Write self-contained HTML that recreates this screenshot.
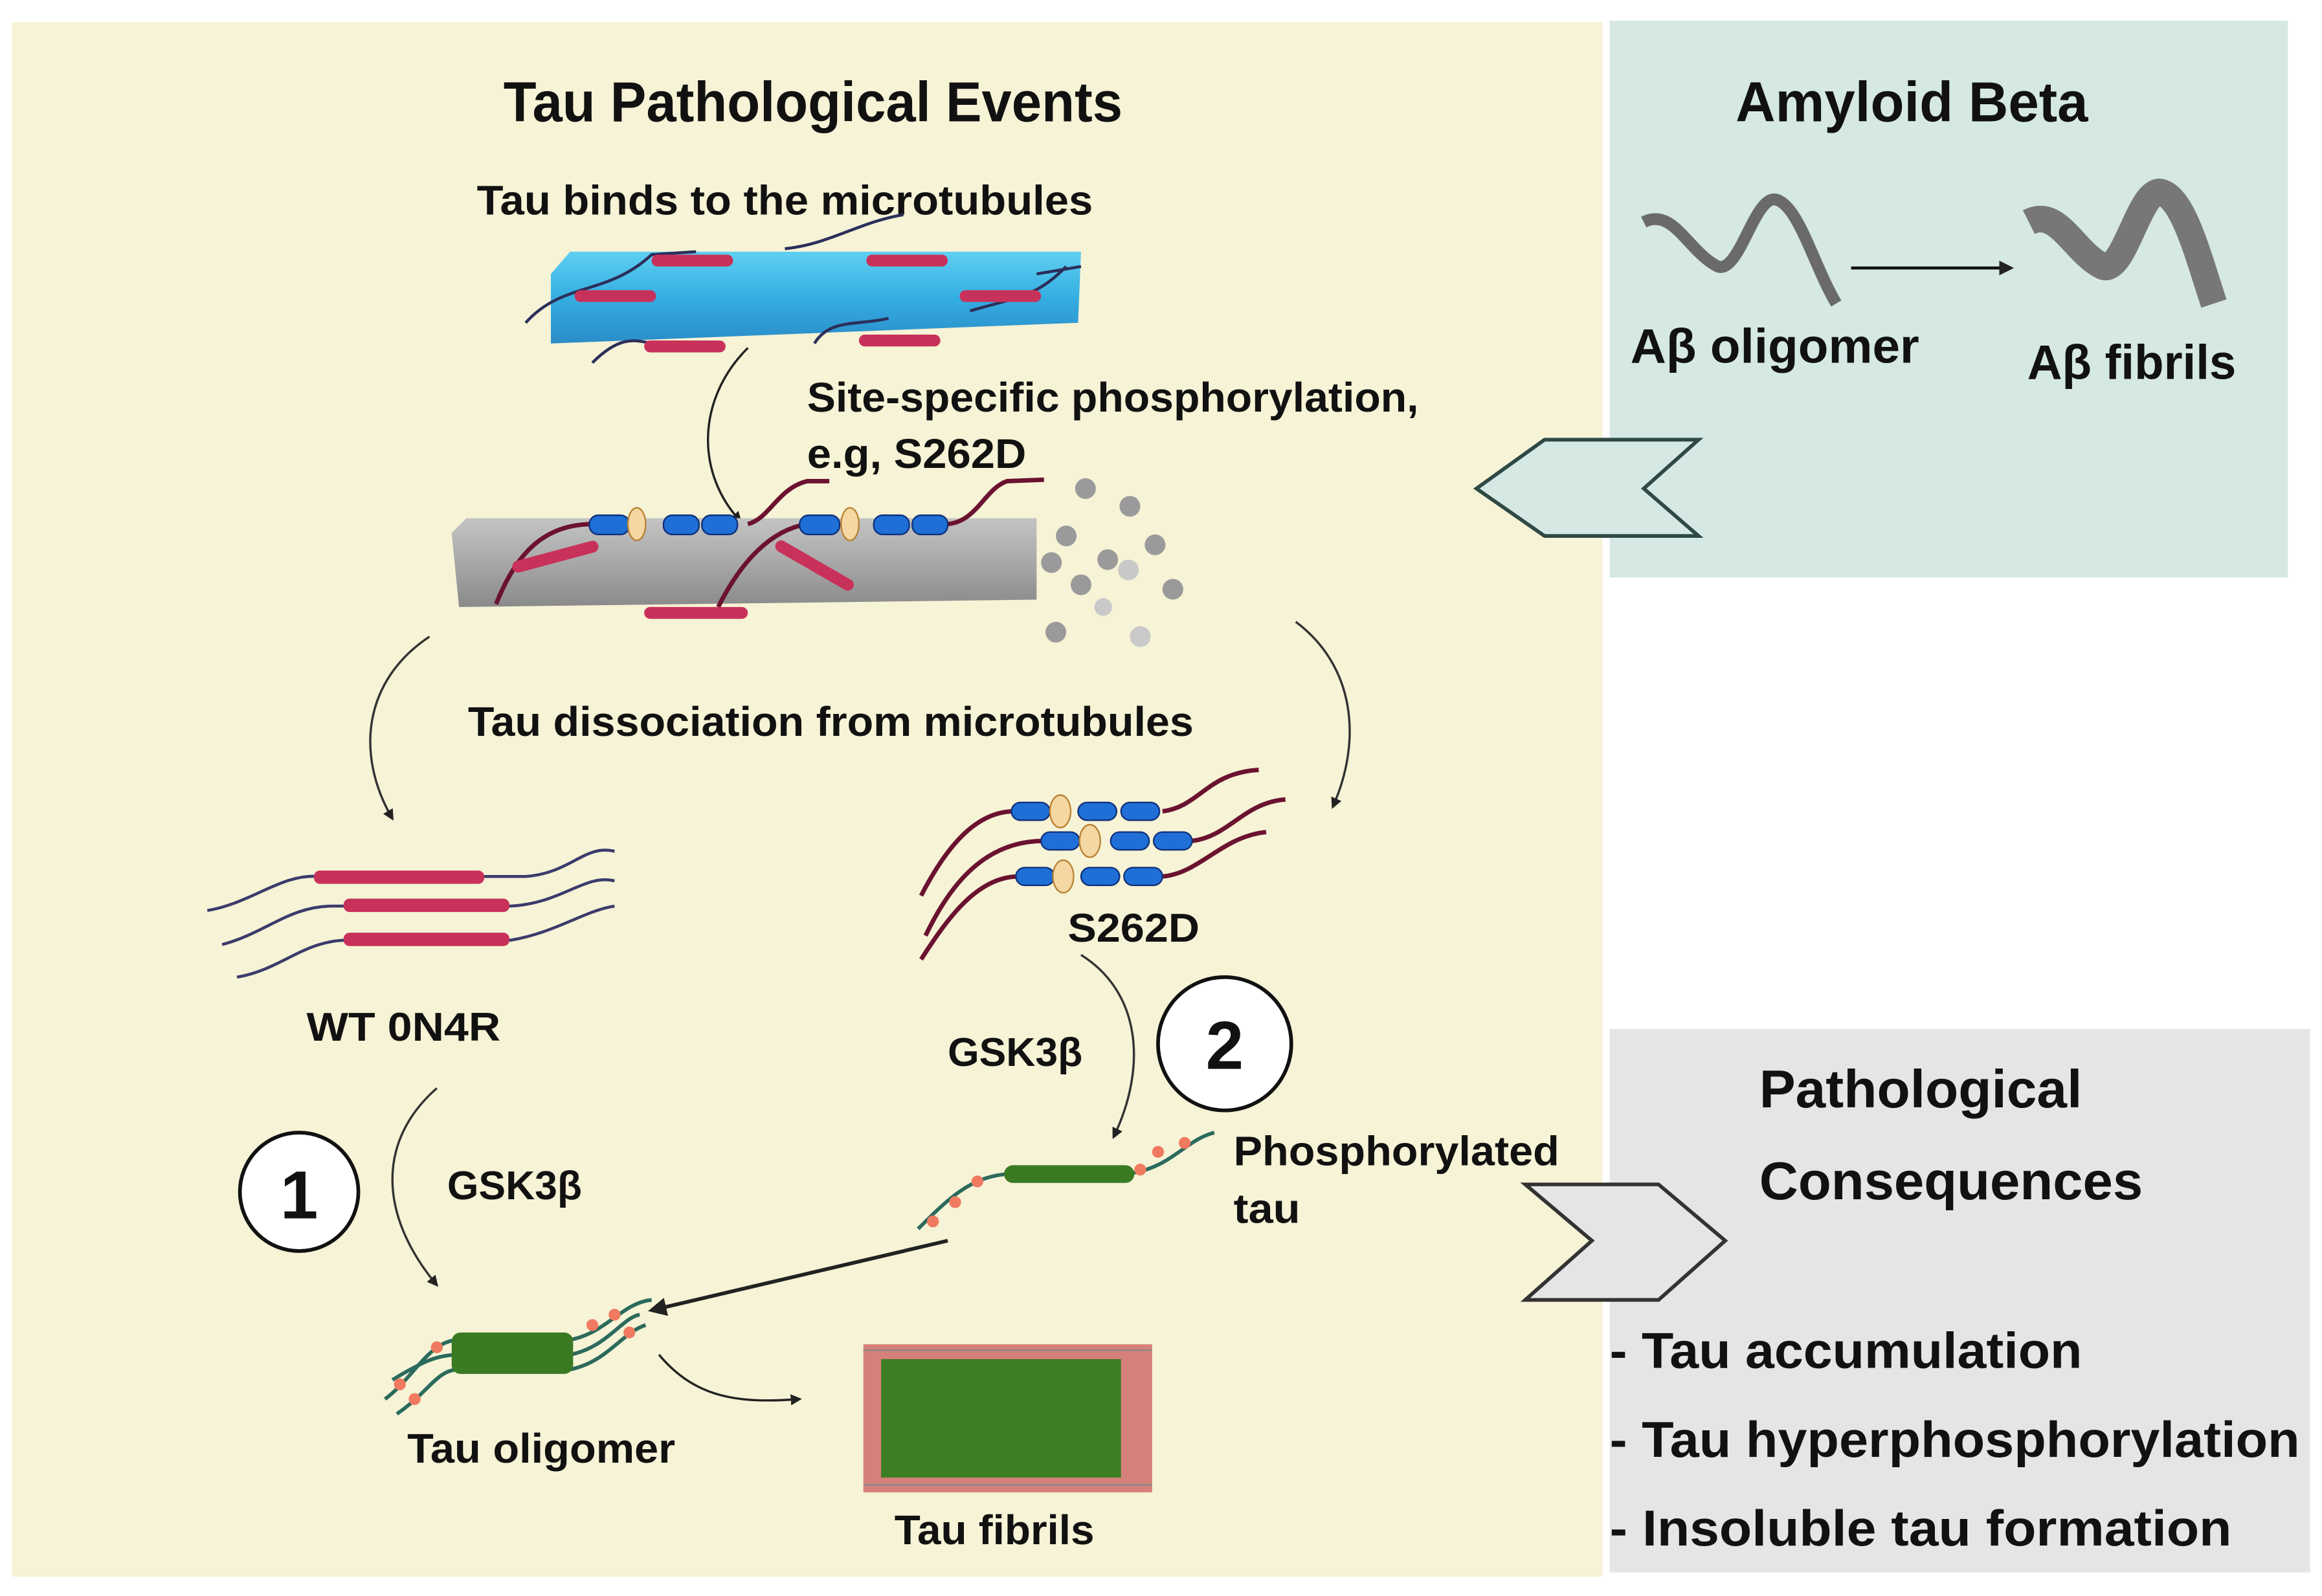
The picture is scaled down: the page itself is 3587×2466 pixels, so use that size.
<!DOCTYPE html>
<html><head><style>
html,body{margin:0;padding:0;background:#fff;}
svg{display:block;}
text{font-family:"Liberation Sans",sans-serif;fill:#111;font-weight:bold;}
</style></head><body>
<svg width="3587" height="2466" viewBox="0 0 1568 1078" preserveAspectRatio="none" xmlns="http://www.w3.org/2000/svg">
<defs>
<linearGradient id="bl" x1="0" y1="0" x2="0" y2="1"><stop offset="0" stop-color="#5fd0f2"/><stop offset="0.5" stop-color="#35aee2"/><stop offset="1" stop-color="#2a8cc8"/></linearGradient>
<linearGradient id="gr" x1="0" y1="0" x2="0" y2="1"><stop offset="0" stop-color="#c4c4c4"/><stop offset="0.5" stop-color="#a8a8a8"/><stop offset="1" stop-color="#8a8a8a"/></linearGradient>
<marker id="ah" viewBox="0 0 10 10" refX="8" refY="5" markerWidth="5" markerHeight="5" orient="auto"><path d="M0,0 L10,5 L0,10 z" fill="#222"/></marker>
</defs>
<rect x="0" y="0" width="1568" height="1078" fill="#fff"/>
<rect x="8" y="15" width="1074" height="1050" fill="#f6f3d6"/>
<rect x="1087" y="14" width="458" height="376" fill="#d5e8e4"/>
<rect x="1087" y="695" width="473" height="367" fill="#e5e5e5"/>

<text x="340" y="82" font-size="38" textLength="418" lengthAdjust="spacingAndGlyphs">Tau Pathological Events</text>
<text x="1172" y="82" font-size="38" textLength="238" lengthAdjust="spacingAndGlyphs">Amyloid Beta</text>
<text x="322" y="145" font-size="28" textLength="416" lengthAdjust="spacingAndGlyphs">Tau binds to the microtubules</text>

<!-- blue MT -->
<path d="M385,170 L730,170 L728,218 L372,232 L372,185 Z" fill="url(#bl)"/>
<g stroke="#2b2f5a" stroke-width="2" fill="none">
<path d="M355,218 C380,190 410,200 440,172 L470,170"/>
<path d="M530,168 C560,165 580,150 610,145"/>
<path d="M720,180 C700,200 690,200 655,210"/>
<path d="M400,245 C420,225 430,230 445,233"/>
<path d="M550,232 C560,215 580,220 600,215"/>
<path d="M700,185 L730,180"/>
</g>
<g fill="#c8315a">
<rect x="440" y="172" width="55" height="8" rx="4"/>
<rect x="388" y="196" width="55" height="8" rx="4"/>
<rect x="585" y="172" width="55" height="8" rx="4"/>
<rect x="648" y="196" width="55" height="8" rx="4"/>
<rect x="435" y="230" width="55" height="8" rx="4"/>
<rect x="580" y="226" width="55" height="8" rx="4"/>
</g>
<path d="M505,235 C470,270 470,320 500,352" stroke="#222" stroke-width="1.5" fill="none" marker-end="url(#ah)"/>

<text x="545" y="278" font-size="28" textLength="413" lengthAdjust="spacingAndGlyphs">Site-specific phosphorylation,</text>
<text x="545" y="316" font-size="28" textLength="148" lengthAdjust="spacingAndGlyphs">e.g, S262D</text>

<!-- gray MT -->
<path d="M315,350 L700,350 L700,405 L310,410 L305,360 Z" fill="url(#gr)"/>
<g fill="#9a9a9a">
<circle cx="733" cy="330" r="7"/><circle cx="763" cy="342" r="7"/><circle cx="720" cy="362" r="7"/><circle cx="780" cy="368" r="7"/><circle cx="710" cy="380" r="7"/><circle cx="748" cy="378" r="7"/><circle cx="730" cy="395" r="7"/><circle cx="792" cy="398" r="7"/><circle cx="762" cy="385" r="7" fill="#c9c9c9"/><circle cx="713" cy="427" r="7"/><circle cx="770" cy="430" r="7" fill="#c9c9c9"/><circle cx="745" cy="410" r="6" fill="#c9c9c9"/>
</g>
<g stroke="#6b1230" stroke-width="3" fill="none">
<path d="M335,408 C350,370 370,355 398,354"/>
<path d="M505,354 C520,350 525,330 545,325 L560,325"/>
<path d="M640,354 C660,352 665,330 680,325 L705,324"/>
<path d="M485,410 C500,380 520,358 545,354"/>
</g>
<g fill="#1f6fd6" stroke="#10307a" stroke-width="1">
<rect x="398" y="348" width="27" height="13" rx="6"/><rect x="448" y="348" width="24" height="13" rx="6"/><rect x="474" y="348" width="24" height="13" rx="6"/>
<rect x="540" y="348" width="27" height="13" rx="6"/><rect x="590" y="348" width="24" height="13" rx="6"/><rect x="616" y="348" width="24" height="13" rx="6"/>
</g>
<ellipse cx="430" cy="354" rx="6" ry="11" fill="#f4d7a3" stroke="#b88030"/>
<ellipse cx="574" cy="354" rx="6" ry="11" fill="#f4d7a3" stroke="#b88030"/>
<g fill="#c8315a"><rect x="435" y="410" width="70" height="8" rx="4"/><rect x="520" y="378" width="60" height="8" rx="4" transform="rotate(30 550 382)"/><rect x="345" y="372" width="60" height="8" rx="4" transform="rotate(-15 375 376)"/></g>

<path d="M290,430 C245,460 240,510 265,553" stroke="#333" stroke-width="1.5" fill="none" marker-end="url(#ah)"/>
<path d="M875,420 C915,450 920,500 900,545" stroke="#333" stroke-width="1.5" fill="none" marker-end="url(#ah)"/>
<text x="316" y="497" font-size="28" textLength="490" lengthAdjust="spacingAndGlyphs">Tau dissociation from microtubules</text>

<!-- WT -->
<g stroke="#3b3b6b" stroke-width="2" fill="none">
<path d="M140,615 C170,610 190,590 215,592 L355,592 C385,590 395,570 415,575"/>
<path d="M150,638 C180,630 195,612 225,612 L345,612 C380,610 395,590 415,595"/>
<path d="M160,660 C190,655 205,635 235,635 L345,635 C375,630 395,615 415,612"/>
</g>
<g fill="#c8315a"><rect x="212" y="588" width="115" height="9" rx="4"/><rect x="232" y="607" width="112" height="9" rx="4"/><rect x="232" y="630" width="112" height="9" rx="4"/></g>
<text x="207" y="703" font-size="27" textLength="131" lengthAdjust="spacingAndGlyphs">WT 0N4R</text>

<!-- S262D -->
<g stroke="#6b1230" stroke-width="3" fill="none">
<path d="M622,605 C640,570 660,548 685,548 M785,548 C810,545 815,522 850,520"/>
<path d="M625,632 C645,590 670,568 705,568 M805,568 C830,565 840,542 868,540"/>
<path d="M622,648 C640,620 660,592 688,592 M785,592 C810,590 825,565 855,562"/>
</g>
<g fill="#1f6fd6" stroke="#10307a" stroke-width="1">
<rect x="683" y="542" width="26" height="12" rx="6"/><rect x="728" y="542" width="26" height="12" rx="6"/><rect x="757" y="542" width="26" height="12" rx="6"/>
<rect x="703" y="562" width="26" height="12" rx="6"/><rect x="750" y="562" width="26" height="12" rx="6"/><rect x="779" y="562" width="26" height="12" rx="6"/>
<rect x="686" y="586" width="26" height="12" rx="6"/><rect x="730" y="586" width="26" height="12" rx="6"/><rect x="759" y="586" width="26" height="12" rx="6"/>
</g>
<ellipse cx="716" cy="548" rx="7" ry="11" fill="#f4d7a3" stroke="#b88030"/>
<ellipse cx="736" cy="568" rx="7" ry="11" fill="#f4d7a3" stroke="#b88030"/>
<ellipse cx="718" cy="592" rx="7" ry="11" fill="#f4d7a3" stroke="#b88030"/>
<text x="721" y="636" font-size="27" textLength="89" lengthAdjust="spacingAndGlyphs">S262D</text>

<path d="M730,645 C770,670 775,720 752,768" stroke="#333" stroke-width="1.5" fill="none" marker-end="url(#ah)"/>
<text x="640" y="720" font-size="27" textLength="91" lengthAdjust="spacingAndGlyphs">GSK3β</text>
<circle cx="827" cy="705" r="45" fill="#fff" stroke="#111" stroke-width="2.5"/>
<text x="827" y="722" font-size="46" text-anchor="middle" font-weight="normal">2</text>

<!-- phosphorylated tau -->
<path d="M620,830 C640,810 655,795 680,793 L760,793 C790,790 800,770 820,765" stroke="#2b6a5c" stroke-width="2.5" fill="none"/>
<rect x="678" y="787" width="88" height="12" rx="6" fill="#3a7a22"/>
<g fill="#f07a60"><circle cx="630" cy="825" r="4"/><circle cx="645" cy="812" r="4"/><circle cx="660" cy="798" r="4"/><circle cx="782" cy="778" r="4"/><circle cx="800" cy="772" r="4"/><circle cx="770" cy="790" r="4"/></g>
<text x="833" y="787" font-size="28" textLength="220" lengthAdjust="spacingAndGlyphs">Phosphorylated</text>
<text x="833" y="826" font-size="28" textLength="45" lengthAdjust="spacingAndGlyphs">tau</text>

<path d="M640,838 L440,885" stroke="#222" stroke-width="2.5" fill="none" marker-end="url(#ah)"/>

<!-- 1 -->
<circle cx="202" cy="805" r="40" fill="#fff" stroke="#111" stroke-width="2.5"/>
<text x="202" y="823" font-size="46" text-anchor="middle" font-weight="normal">1</text>
<path d="M295,735 C255,770 255,820 295,868" stroke="#333" stroke-width="1.5" fill="none" marker-end="url(#ah)"/>
<text x="302" y="810" font-size="27" textLength="91" lengthAdjust="spacingAndGlyphs">GSK3β</text>

<!-- oligomer -->
<g stroke="#2b6a5c" stroke-width="2.5" fill="none">
<path d="M260,945 C280,930 290,905 310,905 L385,905 C410,900 420,880 440,878"/>
<path d="M265,932 C285,920 295,915 310,915 L385,915 C410,910 420,890 432,888"/>
<path d="M268,955 C290,940 295,925 310,925 L385,925 C410,920 420,900 436,895"/>
</g>
<rect x="305" y="900" width="82" height="28" rx="6" fill="#3a7a22"/>
<g fill="#f07a60"><circle cx="270" cy="935" r="4"/><circle cx="280" cy="945" r="4"/><circle cx="295" cy="910" r="4"/><circle cx="400" cy="895" r="4"/><circle cx="415" cy="888" r="4"/><circle cx="425" cy="900" r="4"/></g>
<text x="275" y="988" font-size="28" textLength="181" lengthAdjust="spacingAndGlyphs">Tau oligomer</text>
<path d="M445,915 C470,945 500,948 540,945" stroke="#222" stroke-width="1.5" fill="none" marker-end="url(#ah)"/>

<!-- fibrils -->
<rect x="583" y="908" width="195" height="100" fill="#d5807a"/>
<rect x="595" y="918" width="162" height="80" fill="#3d7d23"/>
<g stroke="#888" stroke-width="1"><line x1="583" y1="912" x2="778" y2="912"/><line x1="583" y1="1003" x2="778" y2="1003"/></g>
<text x="604" y="1043" font-size="28" textLength="135" lengthAdjust="spacingAndGlyphs">Tau fibrils</text>

<!-- amyloid -->
<path d="M1110,150 C1130,140 1140,170 1160,180 C1175,185 1185,130 1200,135 C1215,140 1225,180 1240,205" stroke="#6a6a6a" stroke-width="8" fill="none"/>
<path d="M1370,150 C1390,140 1400,170 1420,180 C1435,185 1445,125 1460,130 C1475,135 1485,175 1495,205" stroke="#777" stroke-width="18" fill="none"/>
<line x1="1250" y1="181" x2="1358" y2="181" stroke="#111" stroke-width="2" marker-end="url(#ah)"/>
<text x="1101" y="245" font-size="33" textLength="195" lengthAdjust="spacingAndGlyphs">Aβ oligomer</text>
<text x="1369" y="256" font-size="33" textLength="141" lengthAdjust="spacingAndGlyphs">Aβ fibrils</text>

<polygon points="1147,297 1043,297 997,330 1043,362 1147,362 1110,330" fill="#d5e8e4" stroke="#2f4a45" stroke-width="2.5"/>
<polygon points="1030,800 1120,800 1165,838 1120,878 1030,878 1075,838" fill="#e5e5e5" stroke="#333" stroke-width="2.5"/>

<text x="1188" y="748" font-size="36" textLength="218" lengthAdjust="spacingAndGlyphs">Pathological</text>
<text x="1188" y="810" font-size="36" textLength="259" lengthAdjust="spacingAndGlyphs">Consequences</text>
<text x="1087" y="924" font-size="34" textLength="319" lengthAdjust="spacingAndGlyphs">- Tau accumulation</text>
<text x="1087" y="984" font-size="34" textLength="466" lengthAdjust="spacingAndGlyphs">- Tau hyperphosphorylation</text>
<text x="1087" y="1044" font-size="34" textLength="420" lengthAdjust="spacingAndGlyphs">- Insoluble tau formation</text>
</svg>
</body></html>
